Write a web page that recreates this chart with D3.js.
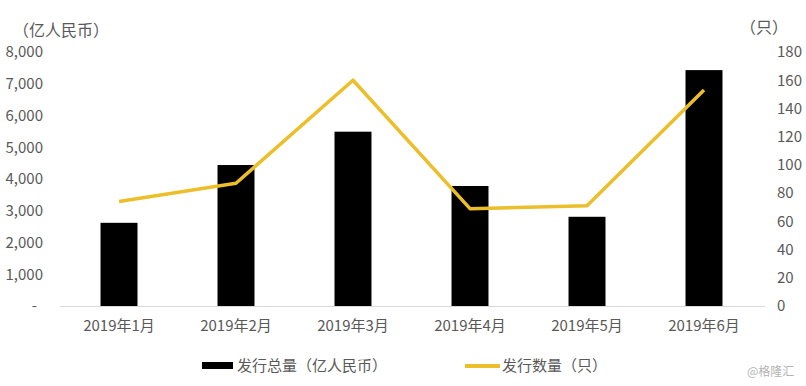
<!DOCTYPE html>
<html>
<head>
<meta charset="utf-8">
<script src="https://cdn.jsdelivr.net/npm/d3@7"></script>
<style>
	body { margin: 0; background: #fff; }
	text { font-family: "Noto Sans CJK SC", "Noto Sans", sans-serif; fill: #595959; }
</style>
</head>
<body>
<script>
var months = ["2019年1月", "2019年2月", "2019年3月", "2019年4月", "2019年5月", "2019年6月"];
var amount = [2620, 4440, 5490, 3780, 2810, 7430];   // 发行总量（亿人民币）
var count = [74, 87, 160, 69, 71, 153];               // 发行数量（只）
var leftTicks = [0, 1000, 2000, 3000, 4000, 5000, 6000, 7000, 8000];
var rightTicks = [0, 20, 40, 60, 80, 100, 120, 140, 160, 180];

function main(){

	var w = 806;
	var h = 386;

	var svg = d3.select("body")
				.append("svg")
				.attr("width", w)
				.attr("height", h);

	var x = d3.scaleBand()
			.domain(months)
			.range([60.5, 762.5])
			.paddingInner(0.684)
			.paddingOuter(0.342);

	var yL = d3.scaleLinear().domain([0, 8000]).range([306, 52]);
	var yR = d3.scaleLinear().domain([0, 180]).range([306, 52]);

	// bars
	svg.selectAll(".bar")
		.data(amount)
		.enter()
		.append("rect")
		.attr("class", "bar")
		.attr("x", function(d, i){ return x(months[i]); })
		.attr("y", function(d){ return yL(d); })
		.attr("width", x.bandwidth())
		.attr("height", function(d){ return yL(0) - yL(d); })
		.attr("fill", "#000");

	// baseline
	svg.append("line")
		.attr("x1", 60)
		.attr("x2", 765)
		.attr("y1", yL(0) + 0.5)
		.attr("y2", yL(0) + 0.5)
		.attr("stroke", "#d9d9d9")
		.attr("stroke-width", 1);

	// line
	var line = d3.line()
				.x(function(d, i){ return x(months[i]) + x.bandwidth() / 2; })
				.y(function(d){ return yR(d); });

	svg.append("path")
		.datum(count)
		.attr("d", line)
		.attr("fill", "none")
		.attr("stroke", "#ecbf2a")
		.attr("stroke-width", 3.5)
		.attr("stroke-linejoin", "round");

	// left axis
	var left = svg.append("g")
				.attr("transform", "translate(43,0)")
				.call(d3.axisLeft(yL)
						.tickValues(leftTicks)
						.tickSize(0)
						.tickPadding(0)
						.tickFormat(function(d){ return d === 0 ? "-" : d3.format(",")(d); }));
	left.select(".domain").remove();
	left.selectAll("text")
		.attr("font-size", 15)
		.attr("fill", "#595959")
		.attr("font-family", null)
		.attr("dx", function(d){ return d === 0 ? -6 : 0; });

	// right axis
	var right = svg.append("g")
				.attr("transform", "translate(777,0)")
				.call(d3.axisRight(yR)
						.tickValues(rightTicks)
						.tickSize(0)
						.tickPadding(0));
	right.select(".domain").remove();
	right.selectAll("text")
		.attr("font-size", 15)
		.attr("fill", "#595959")
		.attr("font-family", null);

	// x axis labels
	var bottom = svg.append("g")
				.attr("transform", "translate(0,320)")
				.call(d3.axisBottom(x).tickSize(0).tickPadding(0));
	bottom.select(".domain").remove();
	bottom.selectAll("text")
		.attr("font-size", 15)
		.attr("fill", "#595959")
		.attr("font-family", null);

	// axis titles
	svg.append("text")
		.text("（亿人民币）")
		.attr("x", 13)
		.attr("y", 36)
		.attr("font-size", 16);

	svg.append("text")
		.text("（只）")
		.attr("x", 740)
		.attr("y", 33)
		.attr("font-size", 16);

	// legend
	svg.append("rect")
		.attr("x", 202)
		.attr("y", 362)
		.attr("width", 31)
		.attr("height", 7)
		.attr("fill", "#000");

	svg.append("text")
		.text("发行总量（亿人民币）")
		.attr("x", 237)
		.attr("y", 371)
		.attr("font-size", 15);

	svg.append("line")
		.attr("x1", 465)
		.attr("x2", 500)
		.attr("y1", 366)
		.attr("y2", 366)
		.attr("stroke", "#ecbf2a")
		.attr("stroke-width", 4);

	svg.append("text")
		.text("发行数量（只）")
		.attr("x", 502)
		.attr("y", 371)
		.attr("font-size", 15);

	svg.append("text")
		.text("@格隆汇")
		.attr("x", 747)
		.attr("y", 376)
		.attr("font-size", 12)
		.style("fill", "#b4b4b4");
}

main();
</script>
</body>
</html>
